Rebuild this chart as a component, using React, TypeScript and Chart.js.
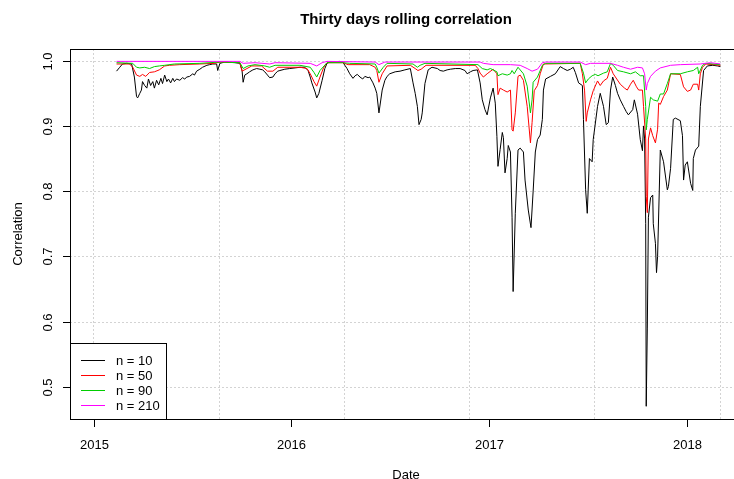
import React, { useEffect, useRef } from "react";
import { Chart, registerables } from "chart.js";

Chart.register(...registerables);

// x values: days since 2015-01-01
const blackDays = [42,48,53,61,70,75,79,81,85,88,90,94,98,101,105,109,112,116,120,124,127,131,135,138,142,146,149,153,159,164,168,172,177,183,186,190,196,201,209,214,220,227,229,233,242,261,270,274,276,279,283,288,294,301,307,312,316,321,325,331,335,340,344,353,362,372,381,390,396,400,403,409,412,416,422,427,431,436,455,460,464,468,473,479,483,487,492,497,501,507,510,516,520,523,527,533,538,542,547,557,566,575,585,590,594,598,601,605,607,612,618,625,635,640,646,653,659,668,677,686,690,696,701,709,714,718,723,727,733,738,742,745,747,751,755,757,760,764,766,770,773,775,779,784,788,794,797,803,808,812,816,820,825,829,831,835,844,853,862,868,875,881,886,890,896,903,905,909,912,916,921,923,931,936,942,947,951,955,959,964,968,973,979,984,988,996,999,1005,1010,1014,1016,1018,1020,1021,1023,1025,1029,1033,1034,1038,1040,1042,1047,1053,1060,1062,1066,1071,1075,1084,1088,1090,1093,1097,1103,1107,1108,1112,1118,1121,1127,1134,1144,1153,1158];
const blackVals = [0.984,0.99,0.995,0.996,0.995,0.975,0.945,0.943,0.95,0.955,0.968,0.962,0.958,0.972,0.962,0.968,0.958,0.97,0.963,0.973,0.965,0.978,0.968,0.972,0.966,0.973,0.968,0.972,0.97,0.974,0.972,0.975,0.976,0.98,0.978,0.984,0.987,0.99,0.993,0.994,0.995,0.995,0.985,0.996,0.998,0.997,0.996,0.985,0.967,0.978,0.98,0.983,0.986,0.988,0.987,0.986,0.983,0.978,0.974,0.975,0.98,0.984,0.985,0.987,0.988,0.989,0.99,0.99,0.985,0.975,0.966,0.952,0.943,0.95,0.97,0.988,0.996,0.998,0.999,0.998,0.993,0.988,0.98,0.973,0.977,0.979,0.975,0.972,0.976,0.974,0.975,0.966,0.958,0.95,0.92,0.955,0.97,0.976,0.98,0.983,0.984,0.986,0.988,0.966,0.95,0.93,0.902,0.91,0.92,0.965,0.986,0.99,0.988,0.985,0.984,0.986,0.987,0.988,0.988,0.985,0.98,0.983,0.985,0.986,0.966,0.94,0.925,0.917,0.943,0.958,0.935,0.884,0.838,0.864,0.89,0.882,0.828,0.85,0.87,0.86,0.76,0.646,0.766,0.863,0.866,0.86,0.817,0.771,0.744,0.8,0.86,0.879,0.886,0.91,0.955,0.972,0.976,0.98,0.991,0.988,0.985,0.987,0.99,0.982,0.966,0.962,0.91,0.802,0.766,0.85,0.845,0.879,0.93,0.95,0.93,0.902,0.905,0.955,0.975,0.962,0.95,0.94,0.93,0.922,0.917,0.925,0.94,0.918,0.879,0.862,0.9,0.88,0.75,0.47,0.59,0.76,0.79,0.794,0.75,0.72,0.675,0.7,0.863,0.845,0.802,0.807,0.835,0.91,0.912,0.908,0.885,0.817,0.84,0.845,0.812,0.801,0.85,0.863,0.869,0.93,0.985,0.992,0.993,0.992,0.991];

const redDays = [42,66,72,79,85,90,96,103,112,121,131,140,159,196,223,233,270,274,283,292,310,321,331,340,381,394,400,407,412,418,425,431,460,470,510,520,523,527,533,542,585,594,599,605,614,705,710,714,720,727,738,745,747,751,757,764,770,773,775,779,784,788,794,801,807,810,814,820,825,831,899,903,907,910,912,918,923,931,936,942,949,955,960,973,981,986,992,997,1003,1007,1014,1016,1020,1021,1023,1025,1029,1033,1038,1042,1044,1047,1053,1060,1066,1084,1090,1097,1103,1108,1116,1118,1121,1125,1131,1158];
const redVals = [0.995,0.995,0.99,0.978,0.976,0.979,0.976,0.982,0.983,0.986,0.992,0.993,0.994,0.995,0.996,0.998,0.997,0.984,0.988,0.992,0.992,0.984,0.984,0.99,0.99,0.988,0.98,0.968,0.961,0.975,0.99,0.997,0.997,0.994,0.994,0.99,0.985,0.967,0.98,0.992,0.993,0.988,0.985,0.987,0.993,0.993,0.988,0.981,0.975,0.98,0.987,0.98,0.948,0.958,0.955,0.952,0.955,0.894,0.892,0.92,0.976,0.978,0.97,0.93,0.874,0.905,0.954,0.962,0.98,0.995,0.996,0.98,0.955,0.907,0.92,0.94,0.954,0.969,0.962,0.969,0.973,0.99,0.98,0.964,0.958,0.955,0.964,0.97,0.96,0.955,0.955,0.93,0.88,0.792,0.767,0.88,0.897,0.885,0.874,0.895,0.935,0.933,0.945,0.955,0.98,0.979,0.96,0.953,0.955,0.964,0.964,0.955,0.98,0.99,0.995,0.993];

const greenDays = [42,72,79,85,94,103,112,121,131,149,196,233,270,276,285,298,316,325,335,381,400,407,412,418,431,460,473,520,523,527,535,542,590,598,603,612,710,718,727,733,745,747,755,764,770,773,777,784,794,801,807,810,812,820,829,835,899,905,909,914,921,927,932,942,949,955,960,968,979,992,1001,1010,1016,1020,1021,1023,1029,1034,1042,1047,1053,1060,1066,1084,1097,1108,1116,1118,1125,1131,1158];
const greenVals = [0.997,0.996,0.99,0.989,0.99,0.988,0.991,0.992,0.993,0.995,0.996,0.998,0.997,0.988,0.992,0.994,0.992,0.99,0.993,0.993,0.99,0.982,0.975,0.985,0.997,0.997,0.996,0.995,0.99,0.981,0.99,0.996,0.995,0.99,0.993,0.996,0.994,0.988,0.986,0.988,0.983,0.977,0.98,0.978,0.98,0.985,0.98,0.99,0.98,0.961,0.92,0.94,0.967,0.975,0.993,0.996,0.996,0.981,0.966,0.972,0.977,0.979,0.977,0.981,0.983,0.996,0.993,0.985,0.983,0.98,0.983,0.977,0.977,0.93,0.894,0.91,0.944,0.94,0.938,0.949,0.949,0.965,0.98,0.98,0.983,0.985,0.99,0.98,0.993,0.996,0.994];

const magentaDays = [42,270,276,298,325,335,400,412,422,431,520,527,538,714,720,738,770,788,801,810,820,829,835,899,909,918,955,968,979,992,1005,1014,1018,1021,1023,1029,1038,1047,1066,1084,1121,1140,1158];
const magentaVals = [0.999,0.999,0.996,0.997,0.995,0.997,0.996,0.992,0.997,0.999,0.998,0.994,0.998,0.998,0.996,0.994,0.994,0.993,0.988,0.984,0.987,0.997,0.998,0.998,0.994,0.996,0.996,0.993,0.99,0.987,0.99,0.989,0.98,0.955,0.965,0.976,0.984,0.989,0.993,0.994,0.995,0.997,0.995];

const seriesLabels = ["n = 10", "n = 50", "n = 90", "n = 210"];
const seriesColors = ["#000000", "#FF0000", "#00CD00", "#FF00FF"];

const yTicks = [0.5, 0.6, 0.7, 0.8, 0.9, 1.0];
const yTickLabels = ["0.5", "0.6", "0.7", "0.8", "0.9", "1.0"];
const yearTicks = [0, 365, 731, 1096];
const yearLabels = ["2015", "2016", "2017", "2018"];
const gridDays = [-0.815, 230.67, 462.15, 693.63, 925.11, 1156.59];

const titleText = "Thirty days rolling correlation";
const xTitle = "Date";
const yTitle = "Correlation";

const FONT = "'Liberation Sans', Arial, sans-serif";

const rPlot = {
  id: "rPlot",
  beforeDatasetsDraw(chart: any) {
    const { ctx, chartArea: a, scales } = chart;
    const x = scales.x, y = scales.y;
    ctx.save();
    ctx.strokeStyle = "#d3d3d3";
    ctx.lineWidth = 1;
    ctx.setLineDash([2, 2]);
    for (const g of gridDays) {
      const px = Math.round(x.getPixelForValue(g)) + 0.5;
      ctx.beginPath();
      ctx.moveTo(px, a.top);
      ctx.lineTo(px, a.bottom);
      ctx.stroke();
    }
    for (const t of yTicks) {
      const py = Math.round(y.getPixelForValue(t)) + 0.5;
      ctx.beginPath();
      ctx.moveTo(a.left, py);
      ctx.lineTo(a.right, py);
      ctx.stroke();
    }
    ctx.restore();
  },
  afterDraw(chart: any) {
    const { ctx, chartArea: a, scales } = chart;
    const x = scales.x, y = scales.y;
    ctx.save();
    ctx.setLineDash([]);
    ctx.strokeStyle = "#000";
    ctx.fillStyle = "#000";
    ctx.lineWidth = 1;
    // box
    ctx.strokeRect(a.left + 0.5, a.top + 0.5, a.right - a.left, a.bottom - a.top);
    // y ticks
    ctx.font = `13px ${FONT}`;
    yTicks.forEach((t, i) => {
      const py = Math.round(y.getPixelForValue(t)) + 0.5;
      ctx.beginPath();
      ctx.moveTo(a.left + 0.5, py);
      ctx.lineTo(a.left - 7, py);
      ctx.stroke();
      ctx.save();
      ctx.translate(51.5, py);
      ctx.rotate(-Math.PI / 2);
      ctx.textAlign = "center";
      ctx.textBaseline = "alphabetic";
      ctx.fillText(yTickLabels[i], 0, 0);
      ctx.restore();
    });
    // x ticks
    yearTicks.forEach((d, i) => {
      const px = Math.round(x.getPixelForValue(d)) + 0.5;
      ctx.beginPath();
      ctx.moveTo(px, a.bottom + 0.5);
      ctx.lineTo(px, a.bottom + 8);
      ctx.stroke();
      ctx.textAlign = "center";
      ctx.textBaseline = "alphabetic";
      ctx.fillText(yearLabels[i], px, 448.5);
    });
    // axis titles
    const cx = (a.left + a.right) / 2;
    ctx.textAlign = "center";
    ctx.fillText(xTitle, cx, 478.5);
    ctx.save();
    ctx.translate(22, (a.top + a.bottom) / 2);
    ctx.rotate(-Math.PI / 2);
    ctx.fillText(yTitle, 0, 0);
    ctx.restore();
    // title
    ctx.font = `bold 15px ${FONT}`;
    ctx.fillText(titleText, cx, 24);
    // legend
    const lx = a.left + 0.5, ly = 343.5, lw = 96, lh = a.bottom - 343;
    ctx.fillStyle = "#fff";
    ctx.fillRect(lx, ly, lw, lh);
    ctx.strokeStyle = "#000";
    ctx.strokeRect(lx, ly, lw, lh);
    ctx.font = `13px ${FONT}`;
    ctx.textAlign = "left";
    ctx.textBaseline = "middle";
    seriesLabels.forEach((lab, i) => {
      const ry = 360 + i * 15;
      ctx.strokeStyle = seriesColors[i];
      ctx.beginPath();
      ctx.moveTo(81, ry + 0.5);
      ctx.lineTo(105, ry + 0.5);
      ctx.stroke();
      ctx.fillStyle = "#000";
      ctx.fillText(lab, 116, ry + 1);
    });
    ctx.restore();
  },
};

export default function App() {
  const ref = useRef<HTMLCanvasElement | null>(null);
  useEffect(() => {
    if (!ref.current) return;
    const mk = (days: number[], vals: number[]) => days.map((d, i) => ({ x: d, y: vals[i] }));
    const sets = [
      mk(blackDays, blackVals),
      mk(redDays, redVals),
      mk(greenDays, greenVals),
      mk(magentaDays, magentaVals),
    ];
    const chart = new Chart(ref.current, {
      type: "line",
      data: {
        datasets: sets.map((data, i) => ({
          label: seriesLabels[i],
          data,
          borderColor: seriesColors[i],
          backgroundColor: seriesColors[i],
          borderWidth: 1,
          pointRadius: 0,
          tension: 0,
          fill: false,
          order: 4 - i,
        })),
      },
      options: {
        animation: false,
        responsive: false,
        devicePixelRatio: 1,
        events: [],
        layout: { padding: { left: 70, top: 49, right: 8, bottom: 60 } },
        plugins: {
          legend: { display: false },
          tooltip: { enabled: false },
          title: { display: false },
        },
        scales: {
          x: { type: "linear", min: -44, max: 1198, display: false },
          y: { type: "linear", min: 0.4505, max: 1.018, display: false },
        },
      },
      plugins: [rPlot],
    });
    return () => chart.destroy();
  }, []);
  return (
    <div style={{ position: "fixed", left: 0, top: 0, width: 734, height: 479, overflow: "hidden", background: "#fff" }}>
      <canvas ref={ref} width={750} height={479} style={{ width: 750, height: 479, display: "block" }} />
    </div>
  );
}
